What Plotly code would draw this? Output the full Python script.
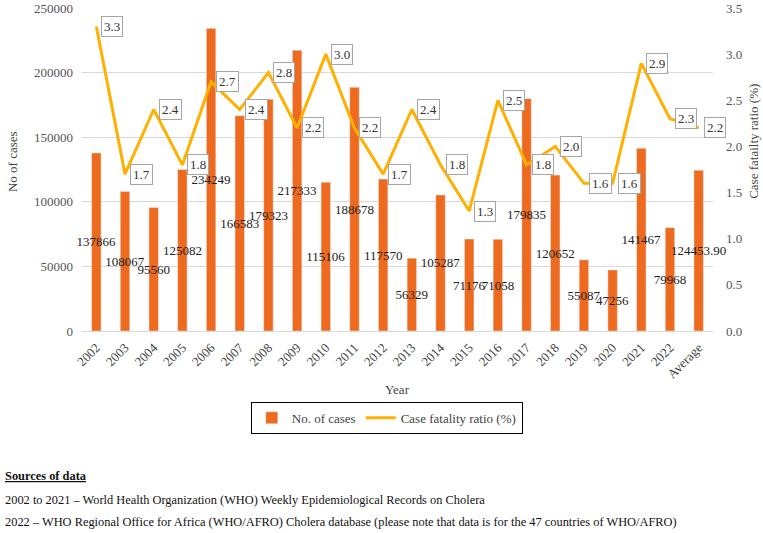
import plotly.graph_objects as go

years = ["2002", "2003", "2004", "2005", "2006", "2007", "2008", "2009", "2010", "2011",
         "2012", "2013", "2014", "2015", "2016", "2017", "2018", "2019", "2020", "2021",
         "2022", "Average"]
cases = [137866, 108067, 95560, 125082, 234249, 166583, 179323, 217333, 115106, 188678,
         117570, 56329, 105287, 71176, 71058, 179835, 120652, 55087, 47256, 141467,
         79968, 124453.90]
case_labels = ["137866", "108067", "95560", "125082", "234249", "166583", "179323", "217333",
               "115106", "188678", "117570", "56329", "105287", "71176", "71058", "179835",
               "120652", "55087", "47256", "141467", "79968", "124453.90"]
cfr = [3.3, 1.7, 2.4, 1.8, 2.7, 2.4, 2.8, 2.2, 3.0, 2.2, 1.7, 2.4, 1.8, 1.3, 2.5, 1.8,
       2.0, 1.6, 1.6, 2.9, 2.3, 2.2]

SERIF = "Liberation Serif, Times New Roman, serif"
BAR = "#ED6A1E"
LINE = "#FFB000"

fig = go.Figure()
fig.add_trace(go.Bar(
    x=years, y=cases, name="No. of cases", marker_color=BAR,
    text=case_labels, textposition="inside", insidetextanchor="middle",
    textangle=0, constraintext="none", cliponaxis=False,
    textfont=dict(family=SERIF, size=13, color="#222"),
))
fig.add_trace(go.Scatter(
    x=years, y=cfr, name="Case fatality ratio (%)", yaxis="y2", mode="lines",
    line=dict(color=LINE, width=3),
))

# callout labels on the line (category index used for x)
for i, v in enumerate(cfr):
    fig.add_annotation(
        x=i, y=v, yref="y2", text=f"{v:.1f}", showarrow=False,
        xanchor="left", yanchor="middle", xshift=5,
        bgcolor="white", bordercolor="#a6a6a6", borderwidth=1, borderpad=2,
        font=dict(family=SERIF, size=13, color="#333"),
    )

title_font = dict(family=SERIF, size=13, color="#444")
fig.add_annotation(x=0.5, y=-0.18, xref="paper", yref="paper", text="Year", showarrow=False,
                   xanchor="center", yanchor="middle", font=title_font)
fig.add_annotation(x=-0.111, y=0.526, xref="paper", yref="paper", text="No of cases",
                   textangle=-90, showarrow=False, xanchor="center", yanchor="middle",
                   font=title_font)
fig.add_annotation(x=1.063, y=0.588, xref="paper", yref="paper", text="Case fatailty ratio (%)",
                   textangle=-90, showarrow=False, xanchor="center", yanchor="middle",
                   font=title_font)

src_font = dict(family=SERIF, size=12.4, color="#111")
sources = [
    "<b><u>Sources of data</u></b>",
    "2002 to 2021 – World Health Organization (WHO) Weekly Epidemiological Records on Cholera",
    "2022 – WHO Regional Office for Africa (WHO/AFRO) Cholera database (please note that data is for the 47 countries of WHO/AFRO)",
]
for txt, yy in zip(sources, [-0.449, -0.523, -0.592]):
    fig.add_annotation(x=-0.125, y=yy, xref="paper", yref="paper", xanchor="left",
                       yanchor="middle", text=txt, showarrow=False, font=src_font)

fig.update_layout(
    width=763, height=533,
    margin=dict(l=82, r=50, t=8, b=202, autoexpand=False),
    plot_bgcolor="white", paper_bgcolor="white",
    bargap=0.67,
    font=dict(family=SERIF, size=13, color="#444"),
    xaxis=dict(type="category", range=[-0.5, len(years) - 0.5], tickangle=-45,
               showgrid=False, showline=True, linecolor="#d9d9d9", ticks="", automargin=False,
               ticklabelstandoff=3, tickfont=dict(family=SERIF, size=13, color="#444")),
    yaxis=dict(range=[0, 250000], dtick=50000, showgrid=True, gridcolor="#d9d9d9",
               zeroline=False, ticks="", tickformat="d", ticklabeloverflow="allow",
               ticklabelstandoff=8, automargin=False,
               tickfont=dict(family=SERIF, size=13, color="#555")),
    yaxis2=dict(range=[0, 3.5], dtick=0.5, overlaying="y", side="right", showgrid=False,
                zeroline=False, tickformat=".1f", ticks="", ticklabeloverflow="allow",
                ticklabelstandoff=12, automargin=False,
                tickfont=dict(family=SERIF, size=13, color="#555")),
    legend=dict(orientation="h", x=0.483, xanchor="center", y=-0.269, yanchor="middle",
                bordercolor="#000", borderwidth=1, bgcolor="white",
                font=dict(family=SERIF, size=13, color="#444")),
    showlegend=True,
)

fig.write_html("out.html", config={"displayModeBar": False},
               post_script="document.body.style.margin='0';")
